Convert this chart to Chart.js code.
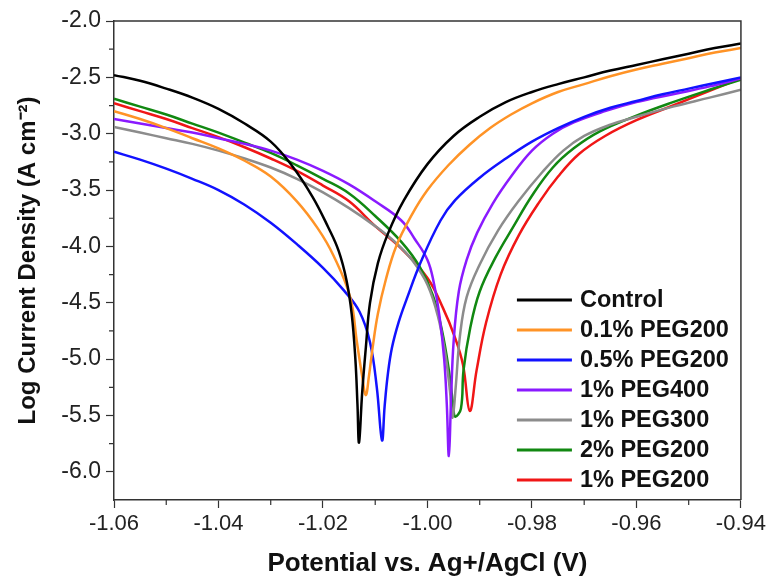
<!DOCTYPE html>
<html>
<head>
<meta charset="utf-8">
<script src="https://cdn.jsdelivr.net/npm/chart.js@4.4.1/dist/chart.umd.min.js"></script>
<style>
  html, body { margin: 0; padding: 0; background: #fff; }
</style>
</head>
<body>
<canvas id="chart" width="769" height="580"></canvas>
<script>
// Tafel curves, [potential (V), log current density]
const control = [[-1.060,-2.48],[-1.055,-2.53],[-1.050,-2.60],[-1.045,-2.68],[-1.040,-2.78],[-1.035,-2.91],[-1.030,-3.07],[-1.026,-3.28],[-1.022,-3.56],[-1.019,-3.83],[-1.017,-4.04],[-1.0155,-4.30],[-1.0145,-4.60],[-1.0138,-5.00],[-1.0134,-5.40],[-1.0131,-5.74],
  [-1.0125,-5.30],[-1.0118,-4.90],[-1.0110,-4.50],[-1.0095,-4.15],[-1.0075,-3.88],[-1.0045,-3.59],[-1.000,-3.27],[-0.995,-3.02],[-0.990,-2.85],[-0.985,-2.72],[-0.980,-2.63],[-0.975,-2.56],[-0.970,-2.50],[-0.965,-2.44],[-0.960,-2.39],[-0.955,-2.34],[-0.950,-2.29],[-0.945,-2.24],[-0.940,-2.20]];
const peg200_01 = [[-1.060,-2.80],[-1.055,-2.87],[-1.050,-2.95],[-1.045,-3.04],[-1.040,-3.13],[-1.035,-3.24],[-1.030,-3.38],[-1.025,-3.60],[-1.021,-3.84],[-1.018,-4.08],[-1.0148,-4.45],[-1.0135,-4.85],[-1.0125,-5.15],[-1.0118,-5.32],
  [-1.0112,-5.15],[-1.0105,-4.90],[-1.0095,-4.60],[-1.008,-4.30],[-1.006,-4.00],[-1.003,-3.72],[-1.000,-3.50],[-0.996,-3.28],[-0.992,-3.10],[-0.988,-2.95],[-0.984,-2.83],[-0.980,-2.73],[-0.975,-2.63],[-0.970,-2.56],[-0.965,-2.49],[-0.960,-2.43],[-0.955,-2.38],[-0.950,-2.33],[-0.945,-2.28],[-0.940,-2.24]];
const peg200_05 = [[-1.060,-3.16],[-1.055,-3.23],[-1.050,-3.31],[-1.045,-3.40],[-1.040,-3.50],[-1.035,-3.63],[-1.030,-3.79],[-1.025,-3.98],[-1.020,-4.19],[-1.016,-4.39],[-1.013,-4.58],[-1.011,-4.85],[-1.0097,-5.25],[-1.0087,-5.72],
  [-1.0082,-5.42],[-1.0076,-5.14],[-1.0068,-4.90],[-1.0055,-4.67],[-1.0040,-4.47],[-1.0012,-4.13],[-0.9975,-3.77],[-0.9947,-3.59],[-0.990,-3.39],[-0.985,-3.22],[-0.980,-3.07],[-0.975,-2.95],[-0.970,-2.85],[-0.965,-2.77],[-0.960,-2.71],[-0.955,-2.65],[-0.950,-2.60],[-0.945,-2.55],[-0.940,-2.50]];
const peg400_1 = [[-1.060,-2.87],[-1.055,-2.91],[-1.050,-2.95],[-1.045,-2.99],[-1.040,-3.04],[-1.035,-3.09],[-1.030,-3.15],[-1.025,-3.23],[-1.020,-3.33],[-1.015,-3.45],[-1.010,-3.60],[-1.005,-3.77],[-1.0025,-3.93],[-1.000,-4.12],[-0.9988,-4.32],[-0.9977,-4.62],[-0.9968,-5.00],[-0.9963,-5.40],[-0.9959,-5.86],
  [-0.9955,-5.38],[-0.9950,-4.85],[-0.9940,-4.40],[-0.9925,-4.12],[-0.9905,-3.88],[-0.9875,-3.62],[-0.984,-3.38],[-0.980,-3.15],[-0.976,-3.00],[-0.972,-2.90],[-0.966,-2.80],[-0.960,-2.72],[-0.953,-2.65],[-0.946,-2.58],[-0.940,-2.51]];
const peg300_1 = [[-1.060,-2.94],[-1.055,-2.99],[-1.050,-3.04],[-1.045,-3.09],[-1.040,-3.15],[-1.035,-3.22],[-1.030,-3.30],[-1.025,-3.40],[-1.020,-3.52],[-1.015,-3.66],[-1.010,-3.82],[-1.006,-3.97],[-1.0028,-4.13],[-1.000,-4.34],[-0.9980,-4.62],[-0.9966,-4.95],[-0.9957,-5.28],[-0.9952,-5.52],
  [-0.9946,-5.25],[-0.9938,-4.80],[-0.9925,-4.45],[-0.990,-4.16],[-0.9865,-3.86],[-0.9826,-3.60],[-0.978,-3.34],[-0.974,-3.15],[-0.970,-3.02],[-0.965,-2.92],[-0.960,-2.85],[-0.953,-2.76],[-0.946,-2.68],[-0.940,-2.61]];
const peg200_2 = [[-1.060,-2.69],[-1.055,-2.76],[-1.050,-2.83],[-1.045,-2.91],[-1.040,-2.99],[-1.035,-3.08],[-1.030,-3.17],[-1.025,-3.28],[-1.020,-3.40],[-1.015,-3.53],[-1.010,-3.73],[-1.005,-3.96],[-1.0015,-4.18],[-0.9990,-4.43],[-0.9972,-4.75],[-0.9959,-5.10],[-0.9951,-5.40],[-0.9947,-5.51],
  [-0.9936,-5.44],[-0.9931,-5.10],[-0.9918,-4.72],[-0.990,-4.40],[-0.987,-4.10],[-0.9835,-3.82],[-0.9800,-3.55],[-0.976,-3.30],[-0.972,-3.13],[-0.967,-2.98],[-0.960,-2.84],[-0.953,-2.72],[-0.946,-2.61],[-0.940,-2.52]];
const peg200_1 = [[-1.060,-2.73],[-1.055,-2.80],[-1.050,-2.87],[-1.045,-2.95],[-1.040,-3.03],[-1.035,-3.12],[-1.030,-3.22],[-1.025,-3.33],[-1.020,-3.46],[-1.015,-3.60],[-1.010,-3.82],[-1.005,-4.02],[-1.000,-4.28],[-0.997,-4.55],[-0.9948,-4.80],[-0.9932,-5.05],[-0.9919,-5.46],
  [-0.9906,-5.10],[-0.9888,-4.68],[-0.9860,-4.25],[-0.9825,-3.90],[-0.9785,-3.60],[-0.975,-3.38],[-0.971,-3.18],[-0.966,-3.02],[-0.960,-2.88],[-0.953,-2.75],[-0.946,-2.62],[-0.940,-2.51]];

const seriesNames = ["Control", "0.1% PEG200", "0.5% PEG200", "1% PEG400", "1% PEG300", "2% PEG200", "1% PEG200"];
const seriesData = [control, peg200_01, peg200_05, peg400_1, peg300_1, peg200_2, peg200_1];
const seriesColors = ["#000000", "#ff9326", "#1212ff", "#8a1aff", "#8c8c8c", "#118811", "#f01616"];

const xTicks = [-1.06, -1.04, -1.02, -1.00, -0.98, -0.96, -0.94];
const yTicks = [-6.0, -5.5, -5.0, -4.5, -4.0, -3.5, -3.0, -2.5, -2.0];

const FONT = "'Liberation Sans', Arial, sans-serif";
const AXIS_COLOR = "#333333";

// top/right frame, minor ticks and the in-plot legend
const extras = {
  id: "extras",
  afterDatasetsDraw(chart) {
    const { ctx, chartArea: a, scales } = chart;
    ctx.save();
    ctx.strokeStyle = AXIS_COLOR;
    ctx.lineWidth = 1.5;
    ctx.beginPath();
    ctx.moveTo(a.left, a.top);
    ctx.lineTo(a.right, a.top);
    ctx.lineTo(a.right, a.bottom);
    ctx.stroke();

    ctx.lineWidth = 1.2;
    ctx.beginPath();
    for (let i = 0; i < xTicks.length - 1; i++) {
      const px = scales.x.getPixelForValue((xTicks[i] + xTicks[i + 1]) / 2);
      ctx.moveTo(px, a.bottom);
      ctx.lineTo(px, a.bottom + 5);
    }
    for (let i = 0; i < yTicks.length - 1; i++) {
      const py = scales.y.getPixelForValue((yTicks[i] + yTicks[i + 1]) / 2);
      ctx.moveTo(a.left, py);
      ctx.lineTo(a.left - 5, py);
    }
    ctx.stroke();

    ctx.font = "bold 23.5px " + FONT;
    ctx.textBaseline = "middle";
    ctx.textAlign = "left";
    const n = chart.data.datasets.length;
    chart.data.datasets.forEach((ds, i) => {
      const y = a.bottom - 20 - (n - 1 - i) * 30;
      ctx.strokeStyle = ds.borderColor;
      ctx.lineWidth = 3;
      ctx.beginPath();
      ctx.moveTo(a.right - 224, y);
      ctx.lineTo(a.right - 169, y);
      ctx.stroke();
      ctx.fillStyle = "#111";
      ctx.fillText(ds.label, a.right - 161, y + 1);
    });
    ctx.restore();
  }
};

new Chart(document.getElementById("chart"), {
  type: "scatter",
  data: {
    datasets: seriesNames.map((name, i) => ({
      label: name,
      data: seriesData[i].map(p => ({ x: p[0], y: p[1] })),
      borderColor: seriesColors[i],
      backgroundColor: seriesColors[i],
      showLine: true,
      pointRadius: 0,
      borderWidth: 2.5,
      tension: 0.4
    }))
  },
  options: {
    responsive: false,
    animation: false,
    layout: { padding: { top: 21, right: 28, left: 0, bottom: 0 } },
    plugins: { legend: { display: false }, tooltip: { enabled: false } },
    scales: {
      x: {
        type: "linear",
        min: -1.06,
        max: -0.94,
        afterBuildTicks: s => { s.ticks = xTicks.map(v => ({ value: v })); },
        afterFit: s => { s.height = 80; },
        ticks: {
          callback: v => v.toFixed(2),
          font: { family: FONT, size: 22 },
          color: "#222",
          padding: 3,
          maxRotation: 0
        },
        grid: { drawOnChartArea: false, drawTicks: true, tickLength: 8, tickColor: AXIS_COLOR, tickWidth: 1.2 },
        border: { display: true, color: AXIS_COLOR, width: 1.5 },
        title: {
          display: true,
          text: "Potential vs. Ag+/AgCl (V)",
          font: { family: FONT, size: 26, weight: "bold", lineHeight: 1.2 },
          color: "#111",
          padding: { top: 0, bottom: 1 }
        }
      },
      y: {
        type: "linear",
        min: -6.25,
        max: -2.0,
        afterBuildTicks: s => { s.ticks = yTicks.map(v => ({ value: v })); },
        afterFit: s => { s.width = 114; },
        ticks: {
          callback: v => v.toFixed(1),
          font: { family: FONT, size: 23 },
          color: "#222",
          padding: 5
        },
        grid: { drawOnChartArea: false, drawTicks: true, tickLength: 8, tickColor: AXIS_COLOR, tickWidth: 1.2 },
        border: { display: true, color: AXIS_COLOR, width: 1.5 },
        title: {
          display: true,
          text: "Log Current Density (A cm\u207B\u00B2)",
          font: { family: FONT, size: 24, weight: "bold", lineHeight: 1.2 },
          color: "#111",
          padding: { top: 14, bottom: 0 }
        }
      }
    }
  },
  plugins: [extras]
});
</script>
</body>
</html>
